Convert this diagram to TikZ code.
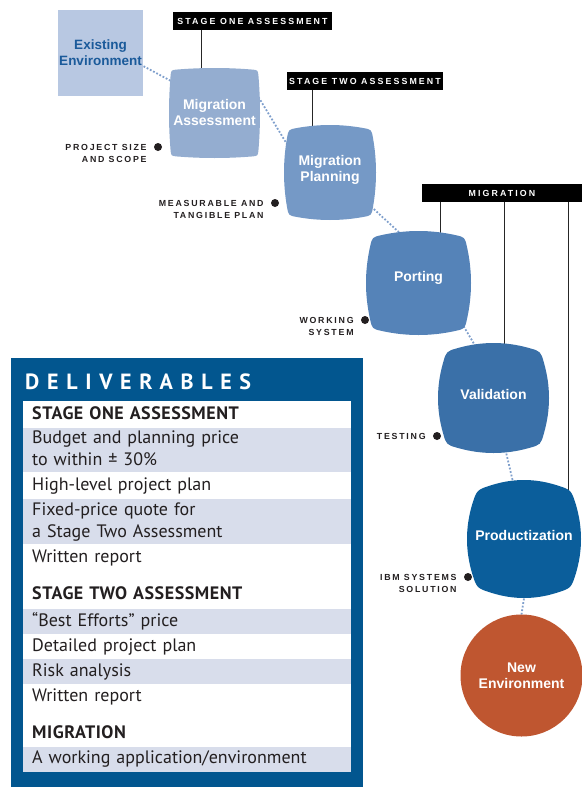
\documentclass[tikz,border=0pt]{standalone}
\usepackage{fontspec}
\setmainfont{Liberation Sans}
\newfontfamily\listfont{PT Sans}
\usepackage{tikz}
\usetikzlibrary{positioning,backgrounds}

\definecolor{existfill}{HTML}{B8C8E2}
\definecolor{existtext}{HTML}{1A5A9A}
\definecolor{assesscol}{HTML}{94ADD0}
\definecolor{plancol}{HTML}{7599C6}
\definecolor{portcol}{HTML}{5583B8}
\definecolor{validcol}{HTML}{3A70A8}
\definecolor{prodcol}{HTML}{0B5E9B}
\definecolor{newcol}{HTML}{BF5630}
\definecolor{linkcol}{HTML}{7F9FCC}
\definecolor{delivblue}{HTML}{02568F}
\definecolor{rowshade}{HTML}{D8DDEB}
\definecolor{inktext}{HTML}{231F20}

% pillow shaped stage: centre x, centre y, corner half width, corner half height,
% bulge of the sides, corner cut, colour
\newcommand{\pillow}[7]{%
  \pgfmathsetmacro\pilo{4*#6*#5/(2*#3-2*#6+4*#5)}%
  \pgfmathsetmacro\pilk{4*#5/3}%
  \fill[#7] ({#1-#3},{#2-#4+#6})
    .. controls ({#1-#3+\pilo},{#2-#4+\pilo}) .. ({#1-#3+#6},{#2-#4})
    .. controls ({#1-(#3-#6)/3},{#2-#4-\pilk}) and ({#1+(#3-#6)/3},{#2-#4-\pilk}) .. ({#1+#3-#6},{#2-#4})
    .. controls ({#1+#3-\pilo},{#2-#4+\pilo}) .. ({#1+#3},{#2-#4+#6})
    .. controls ({#1+#3+\pilk},{#2-(#4-#6)/3}) and ({#1+#3+\pilk},{#2+(#4-#6)/3}) .. ({#1+#3},{#2+#4-#6})
    .. controls ({#1+#3-\pilo},{#2+#4-\pilo}) .. ({#1+#3-#6},{#2+#4})
    .. controls ({#1+(#3-#6)/3},{#2+#4+\pilk}) and ({#1-(#3-#6)/3},{#2+#4+\pilk}) .. ({#1-#3+#6},{#2+#4})
    .. controls ({#1-#3+\pilo},{#2+#4-\pilo}) .. ({#1-#3},{#2+#4-#6})
    .. controls ({#1-#3-\pilk},{#2+(#4-#6)/3}) and ({#1-#3-\pilk},{#2-(#4-#6)/3}) .. ({#1-#3},{#2-#4+#6})
    -- cycle;}

\tikzset{
  stage/.style={inner sep=0pt, align=center, text=white,
    font=\fontsize{14}{16}\selectfont\bfseries},
  tag/.style={fill=black, text=white, minimum height=18, inner sep=0pt,
    font=\fontsize{8.8}{10}\selectfont\bfseries\addfontfeature{LetterSpace=24}},
  tagline/.style={line width=0.9pt, black!85},
  link/.style={linkcol, line width=1.8pt, dash pattern=on 1.8pt off 1.8pt,
    shorten <=-14pt, shorten >=-14pt},
  bulletdot/.style={circle, fill=inktext, minimum size=8, inner sep=0pt},
  note/.style={anchor=north east, align=right, inner sep=0pt, text=inktext,
    font=\fontsize{8.8}{12.5}\selectfont\bfseries\addfontfeature{LetterSpace=20}},
  row/.style={anchor=north west, text width=309.5, inner xsep=9pt, inner ysep=0pt,
    align=left, text=inktext, font=\listfont\fontsize{18}{22}\selectfont,
    execute at begin node=\strut, execute at end node=\strut},
  shaded/.style={row, fill=rowshade},
  rowhead/.style={row, font=\listfont\bfseries\fontsize{18}{22}\selectfont\addfontfeature{LetterSpace=3}}
}

\begin{document}
\begin{tikzpicture}[x=1pt, y=-1pt]
\useasboundingbox (0,0) rectangle (581,787);

% stages
\node[stage, fill=existfill, text=existtext, font=\fontsize{13.5}{16}\selectfont\bfseries,
  minimum width=85, minimum height=86] (exist) at (100.5,53) {Existing\\Environment};
\pillow{214.5}{113}{44}{43.5}{1.5}{7}{assesscol}
\node[stage, minimum width=91, minimum height=90, text depth=2pt] (ma) at (214.5,113) {Migration\\Assessment};
\pillow{330}{172.5}{43}{44.5}{3}{10}{plancol}
\node[stage, minimum width=92, minimum height=95, text depth=8pt] (mp) at (330,172.5) {Migration\\Planning};
\pillow{418.5}{283}{48.5}{48}{4}{12}{portcol}
\node[stage, minimum width=105, minimum height=104, text depth=13pt] (port) at (418.5,283) {Porting};
\pillow{493.5}{398}{50.5}{50}{5}{15}{validcol}
\node[stage, minimum width=111, minimum height=110, text depth=8pt] (val) at (493.5,398) {Validation};
\pillow{524}{539}{52}{54}{5}{20}{prodcol}
\node[stage, minimum width=114, minimum height=118, text depth=8pt] (prod) at (524,539) {Productization};
\node[stage, circle, fill=newcol, minimum size=122] (newenv) at (521.5,675.5) {New\\Environment};

% headings
\node[tag, minimum width=159] (tag1) at (252.5,21) {STAGE ONE ASSESSMENT};
\node[tag, minimum width=156] (tag2) at (365,81) {STAGE TWO ASSESSMENT};
\node[tag, minimum width=160] (tag3) at (502,193) {MIGRATION};

% outcomes
\node[bulletdot] (b1) at (158,147) {};
\node[note] (n1) at ([xshift=-7pt,yshift=3.2pt]b1.west) {PROJECT SIZE\\AND SCOPE};
\node[bulletdot] (b2) at (275,203) {};
\node[note] (n2) at ([xshift=-7pt,yshift=3.2pt]b2.west) {MEASURABLE AND\\TANGIBLE PLAN};
\node[bulletdot] (b3) at (365,320) {};
\node[note] (n3) at ([xshift=-7pt,yshift=3.2pt]b3.west) {WORKING\\SYSTEM};
\node[bulletdot] (b4) at (437,436) {};
\node[note] (n4) at ([xshift=-7pt,yshift=3.2pt]b4.west) {TESTING};
\node[bulletdot] (b5) at (468,577) {};
\node[note] (n5) at ([xshift=-7pt,yshift=3.2pt]b5.west) {IBM SYSTEMS\\SOLUTION};

\begin{scope}[on background layer]
\draw[link] (exist.-17) -- (ma.144);
\draw[link] (ma.16) -- (mp.144);
\draw[link] (mp.-40) -- (port.112);
\draw[link] (port.-46) -- (val.110);
\draw[link] (val.-77) -- (prod.101);
\draw[link] (prod.south) -- (newenv.north);
\draw[tagline] (tag1.south -| 201,0) -- (201,0 |- ma.center);
\draw[tagline] (tag2.south -| 312,0) -- (312,0 |- mp.center);
\foreach \x/\s in {440/port, 504/val, 568/prod}
    \draw[tagline] (tag3.south -| \x,0) -- (\x,0 |- \s.center);
\end{scope}

% deliverables
\node[fill=delivblue, anchor=north west, minimum width=351.5, minimum height=429, inner sep=0pt] (deliv) at (11,358) {};
\node[anchor=west, inner sep=0pt, text=white, font=\listfont\bfseries\fontsize{22}{24}\selectfont\addfontfeature{LetterSpace=35}] (delivtitle) at (25,382) {DELIVERABLES};
\node[fill=white, anchor=north west, minimum width=327.5, minimum height=370, inner sep=0pt] (sheet) at (23,401) {};
\node[rowhead, minimum height=27] (s1) at (23,401) {STAGE ONE ASSESSMENT};
\node[shaded, minimum height=44] (s1a) at (23,428) {Budget and planning price\\to within ± 30\%};
\node[row, minimum height=27] (s1b) at (23,472) {High-level project plan};
\node[shaded, minimum height=45] (s1c) at (23,499) {Fixed-price quote for\\a Stage Two Assessment};
\node[row, minimum height=28] (s1d) at (23,544) {Written report};
\node[rowhead, minimum height=28] (s2) at (23,581) {STAGE TWO ASSESSMENT};
\node[shaded, minimum height=25] (s2a) at (23,609) {“Best Efforts” price};
\node[row, minimum height=25] (s2b) at (23,634) {Detailed project plan};
\node[shaded, minimum height=25] (s2c) at (23,659) {Risk analysis};
\node[row, minimum height=25] (s2d) at (23,684) {Written report};
\node[rowhead, minimum height=26] (s3) at (23,721) {MIGRATION};
\node[shaded, minimum height=24.5] (s3a) at (23,747) {A working application/environment};
\end{tikzpicture}
\end{document}
